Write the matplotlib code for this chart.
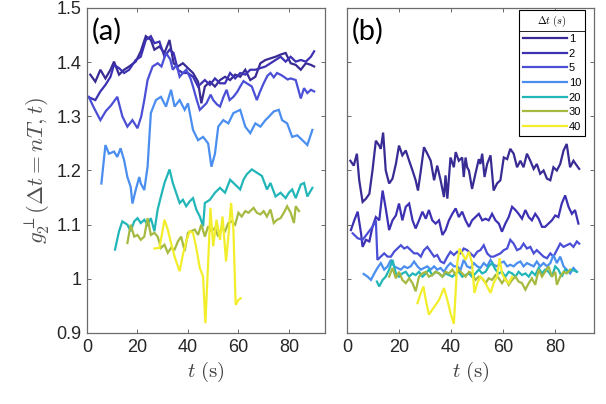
import numpy as np
import matplotlib
matplotlib.use('Agg')
import matplotlib.pyplot as plt
from matplotlib.lines import Line2D
from matplotlib.ticker import FuncFormatter

plt.rcParams['font.family'] = ['Liberation Sans', 'DejaVu Sans']
plt.rcParams['mathtext.fontset'] = 'cm'

''' Correlation g2 (perpendicular) vs time, for several lag times dt = nT.
    Panel (a) and panel (b) are two different samples. Values read by eye. '''

DT_LABELS = ['1', '2', '5', '10', '20', '30', '40']
COLORS = ['#382c94', '#3d31b3', '#4a4fd6', '#4a8ef0', '#22b6b8', '#a6b940', '#f3ee2c']

# ---- panel (a) ----
t_a1 = [1.3, 3.3, 5.3, 7.3, 9.3, 10.7, 12.7, 14.7, 16.7, 19.3, 21.3, 23.3, 25.3, 26.7, 28.7,
        30.7, 32.7, 34.3, 36, 38, 40, 42, 44, 45.3, 46.7, 48.7, 50.7, 52.7, 54.7, 56.7,
        58.7, 60.7, 62.7, 64.7, 66.7, 68.7, 70.7, 72.7, 74.7, 76.7, 78.7, 80.7, 82.7, 84.7, 86.7,
        88.7, 90]
g_a1 = [1.377, 1.364, 1.386, 1.370, 1.386, 1.401, 1.377, 1.386, 1.392, 1.401, 1.420, 1.448, 1.441, 1.423, 1.429,
        1.417, 1.441, 1.398, 1.392, 1.398, 1.389, 1.380, 1.364, 1.324, 1.355, 1.364, 1.355, 1.367, 1.373, 1.367,
        1.377, 1.373, 1.386, 1.367, 1.373, 1.398, 1.404, 1.407, 1.410, 1.414, 1.417, 1.398, 1.395, 1.386, 1.398,
        1.395, 1.392]

t_a2 = [0.3, 3.3, 5.3, 7.3, 9.3, 10.7, 12.7, 14.7, 16.7, 19.3, 21.3, 23.3, 25.3, 26.7, 28.7,
        30.7, 32.7, 34.3, 36, 38, 40, 42, 44, 45.3, 46.7, 48.7, 50.7, 52.7, 54.7, 56.7,
        58.7, 60.7, 62.7, 64.7, 66.7, 68.7, 70.7, 72.7, 74.7, 76.7, 78.7, 80.7, 82.7, 84.7, 86.7,
        88.7, 90]
g_a2 = [1.336, 1.330, 1.346, 1.358, 1.373, 1.395, 1.389, 1.380, 1.386, 1.404, 1.410, 1.441, 1.448, 1.435, 1.438,
        1.410, 1.423, 1.417, 1.386, 1.380, 1.380, 1.373, 1.355, 1.361, 1.367, 1.358, 1.370, 1.361, 1.361, 1.380,
        1.370, 1.380, 1.377, 1.386, 1.386, 1.389, 1.392, 1.398, 1.404, 1.410, 1.401, 1.410, 1.401, 1.404, 1.401,
        1.410, 1.420]

t_a5 = [0.7, 2.5, 5.3, 7.5, 9.5, 12, 14, 16, 18, 20, 21.5, 22.7, 24, 26, 28, 29.5, 31.3, 33, 34, 35.5,
        36.7, 38, 39.3, 41, 42, 43.5, 44.7, 46, 47.3, 49, 50, 51.5, 52.7, 54, 55.3, 56.5, 58, 59.5, 60.7, 62,
        63.3, 65.3, 67.3, 68.5, 70, 71.5, 72.7, 74, 75.3, 77, 78, 79.5, 80.7, 82.7, 84.7, 86, 87.3, 88.7, 90]
g_a5 = [1.336, 1.318, 1.293, 1.310, 1.320, 1.336, 1.300, 1.281, 1.293, 1.278, 1.300, 1.330, 1.367, 1.392, 1.398,
        1.392, 1.417, 1.405, 1.386, 1.395, 1.373, 1.380, 1.386, 1.370, 1.355, 1.330, 1.312, 1.318, 1.324, 1.340,
        1.330, 1.322, 1.318, 1.335, 1.349, 1.330, 1.336, 1.345, 1.355, 1.365, 1.361, 1.355, 1.330, 1.345, 1.361,
        1.375, 1.380, 1.372, 1.380, 1.376, 1.373, 1.368, 1.370, 1.367, 1.333, 1.352, 1.343, 1.349, 1.346]

t_a10 = [5.7, 7.3, 8.7, 10.7, 12, 13.3, 14.7, 16, 17.3, 18, 19.3, 20.7, 21.3, 22.7, 24, 25.3, 27.3, 29.3, 31.3, 33.3,
         34.7, 36.7, 38.7, 40, 42, 44, 46, 48, 49.3, 50.7, 52, 54, 56, 58, 60.7, 62.7, 64.7, 66.7, 68.7, 70.7,
         72, 74, 76, 77.3, 79.3, 81.3, 83.3, 86, 87.3, 89.3]
g_a10 = [1.176, 1.247, 1.231, 1.235, 1.225, 1.241, 1.219, 1.188, 1.170, 1.139, 1.164, 1.188, 1.176, 1.164, 1.207,
         1.306, 1.330, 1.336, 1.318, 1.349, 1.318, 1.330, 1.312, 1.324, 1.275, 1.256, 1.262, 1.250, 1.207, 1.231,
         1.281, 1.293, 1.287, 1.306, 1.312, 1.281, 1.269, 1.287, 1.281, 1.293, 1.299, 1.309, 1.312, 1.293, 1.287,
         1.262, 1.265, 1.253, 1.247, 1.275]

t_a20 = [11.1, 12.7, 14, 16, 17.3, 18.7, 20, 21.3, 22.7, 24, 25.3, 26.7, 28, 29.3, 30.7, 32.7, 34, 35.3, 36.7, 38,
         39.3, 40.7, 42, 43.3, 44.7, 46, 46.7, 48.7, 50.7, 52.7, 54.7, 56.7, 58.7, 60.7, 62, 63.3, 65.3, 67.3, 69.3,
         71.3, 72.7, 74.7, 76.7, 78.7, 80, 81.3, 82.7, 84.7, 86, 87.3, 89.3]
g_a20 = [1.054, 1.088, 1.106, 1.100, 1.088, 1.106, 1.112, 1.103, 1.109, 1.100, 1.112, 1.088, 1.128, 1.152, 1.177,
         1.202, 1.177, 1.159, 1.140, 1.146, 1.134, 1.143, 1.149, 1.128, 1.115, 1.097, 1.140, 1.146, 1.159, 1.168,
         1.159, 1.183, 1.174, 1.165, 1.183, 1.193, 1.202, 1.196, 1.190, 1.165, 1.177, 1.152, 1.159, 1.149, 1.159,
         1.165, 1.149, 1.174, 1.177, 1.152, 1.168]

t_a30 = [16, 17.3, 18.7, 20, 21.3, 22.7, 24, 25.3, 26.7, 28, 29.3, 30.7, 32, 33.3, 34.7, 36, 37.3, 38.7, 40, 41.3,
         42.7, 44, 45.3, 46.7, 48, 49.3, 50.7, 52, 53.3, 54.7, 56, 57.3, 58.7, 60, 61.3, 62.7, 64, 66, 67.3, 68.7,
         70, 71.3, 72.7, 74, 75.3, 76.7, 78, 79.3, 80.7, 82, 82.7, 84]
g_a30 = [1.066, 1.100, 1.078, 1.081, 1.072, 1.078, 1.112, 1.081, 1.085, 1.078, 1.057, 1.063, 1.048, 1.057, 1.054,
         1.069, 1.078, 1.051, 1.085, 1.088, 1.091, 1.081, 1.100, 1.078, 1.097, 1.088, 1.094, 1.078, 1.094, 1.088,
         1.103, 1.106, 1.100, 1.122, 1.115, 1.125, 1.122, 1.131, 1.122, 1.119, 1.125, 1.115, 1.128, 1.103, 1.109,
         1.112, 1.122, 1.134, 1.122, 1.103, 1.134, 1.125]

t_a40 = [26.7, 28.7, 30.7, 32, 33.3, 34.7, 36.7, 38, 39.3, 40.7, 42, 43.3, 44.7, 46, 46.9, 48, 48.9, 50, 51.3, 52.7,
         53.7, 55.1, 56, 57.1, 58, 58.9, 60, 60.9]
g_a40 = [1.056, 1.057, 1.109, 1.091, 1.066, 1.041, 1.014, 1.045, 1.069, 1.088, 1.085, 1.057, 1.020, 1.004, 0.918,
         1.029, 1.131, 1.060, 1.109, 1.072, 1.115, 1.032, 1.078, 1.140, 1.091, 0.952, 0.961, 0.964]

# ---- panel (b) ----
t_b1 = [1.3, 2.6, 3.8, 4.7, 6.0, 7.3, 8.6, 9.8, 11.1, 12.4, 13.0, 13.9, 14.9, 16.2, 17.5, 18.8, 20.0, 21.3, 22.6, 23.9,
        25.2, 26.4, 27.3, 28.4, 29.6, 30.9, 32.2, 33.5, 34.7, 36.0, 37.3, 37.9, 38.6, 39.8, 41.1, 41.8, 43.0, 44.3,
        44.9, 45.6, 46.2, 46.9, 48.1, 49.4, 50.7, 51.3, 52.0, 52.9, 53.9, 55.2, 56.4, 57.7, 59.0, 60.3, 61.6, 62.8,
        64.1, 65.4, 66.7, 67.9, 69.2, 70.5, 71.8, 73.0, 74.3, 75.6, 76.9, 78.2, 79.4, 80.7, 82.0, 83.3, 84.5, 85.8,
        87.1, 88.4, 89.3]
g_b1 = [1.218, 1.209, 1.231, 1.182, 1.142, 1.148, 1.157, 1.200, 1.255, 1.246, 1.240, 1.270, 1.200, 1.176, 1.185,
        1.212, 1.246, 1.228, 1.237, 1.218, 1.200, 1.182, 1.163, 1.200, 1.243, 1.231, 1.218, 1.182, 1.209, 1.182,
        1.151, 1.191, 1.148, 1.224, 1.206, 1.234, 1.218, 1.224, 1.188, 1.224, 1.206, 1.200, 1.166, 1.194, 1.221,
        1.212, 1.231, 1.188, 1.212, 1.228, 1.163, 1.176, 1.182, 1.224, 1.221, 1.240, 1.231, 1.206, 1.218, 1.206,
        1.231, 1.218, 1.203, 1.212, 1.194, 1.200, 1.185, 1.182, 1.206, 1.200, 1.212, 1.237, 1.249, 1.206, 1.218,
        1.209, 1.203]

t_b2 = [1.5, 2.8, 4.1, 5.4, 6.0, 7.3, 8.6, 9.8, 11.1, 12.4, 13.7, 14.9, 16.2, 17.5, 18.8, 20.0, 21.3, 22.6, 23.9, 25.2,
        26.4, 27.7, 29.0, 30.3, 31.5, 32.8, 34.1, 35.4, 36.7, 37.9, 39.2, 40.5, 41.8, 43.0, 44.3, 45.6, 46.9, 48.1,
        49.4, 50.7, 52.0, 53.3, 54.5, 55.8, 57.1, 58.4, 59.6, 60.9, 62.2, 63.5, 64.8, 66.0, 67.3, 68.6, 69.9, 71.1,
        72.4, 73.7, 75.0, 76.2, 77.5, 78.8, 80.1, 81.3, 82.6, 83.9, 85.2, 86.5, 87.7, 89.0]
g_b2 = [1.090, 1.108, 1.124, 1.084, 1.059, 1.072, 1.069, 1.096, 1.114, 1.108, 1.163, 1.130, 1.090, 1.108, 1.117,
        1.139, 1.108, 1.133, 1.139, 1.108, 1.093, 1.108, 1.124, 1.111, 1.127, 1.108, 1.102, 1.108, 1.081, 1.090,
        1.108, 1.120, 1.130, 1.114, 1.124, 1.108, 1.096, 1.108, 1.114, 1.120, 1.108, 1.111, 1.108, 1.120, 1.108,
        1.102, 1.087, 1.102, 1.114, 1.133, 1.127, 1.120, 1.111, 1.127, 1.114, 1.108, 1.120, 1.111, 1.096, 1.096,
        1.102, 1.108, 1.117, 1.114, 1.139, 1.154, 1.133, 1.120, 1.127, 1.102]

t_b5 = [2.2, 4.1, 6.0, 7.9, 9.8, 11.1, 11.7, 13.0, 14.3, 15.6, 16.9, 18.1, 19.4, 20.7, 22.0, 23.2, 24.5, 25.8, 27.1,
        28.4, 29.6, 30.9, 32.2, 33.5, 34.7, 36.0, 37.3, 38.6, 39.8, 41.1, 42.4, 43.7, 44.9, 46.2, 47.5, 48.8, 50.1,
        51.3, 52.6, 53.9, 55.2, 56.4, 57.7, 59.0, 60.3, 61.6, 62.8, 64.1, 65.4, 66.7, 67.9, 69.2, 70.5, 71.8, 73.0,
        74.3, 75.6, 76.9, 78.2, 79.4, 80.7, 82.0, 83.3, 84.5, 85.8, 87.1, 88.4, 89.3]
g_b5 = [1.084, 1.075, 1.072, 1.084, 1.096, 1.108, 1.035, 1.041, 1.047, 1.041, 1.041, 1.050, 1.056, 1.062, 1.056,
        1.059, 1.053, 1.047, 1.047, 1.041, 1.053, 1.059, 1.050, 1.041, 1.044, 1.032, 1.029, 1.041, 1.050, 1.044,
        1.050, 1.047, 1.056, 1.053, 1.047, 1.041, 1.050, 1.053, 1.062, 1.047, 1.041, 1.041, 1.044, 1.047, 1.053,
        1.056, 1.072, 1.065, 1.053, 1.056, 1.065, 1.056, 1.059, 1.047, 1.053, 1.047, 1.041, 1.038, 1.047, 1.041,
        1.053, 1.065, 1.059, 1.062, 1.065, 1.059, 1.069, 1.065]

t_b10 = [6.4, 7.9, 9.2, 10.5, 11.7, 13.0, 14.3, 15.6, 16.9, 18.1, 19.4, 20.7, 22.0, 23.2, 24.5, 25.8, 27.1, 28.4, 29.6,
         30.9, 32.2, 33.5, 34.7, 36.0, 37.3, 38.6, 39.8, 41.1, 42.4, 43.7, 44.9, 46.2, 47.5, 48.8, 50.1, 51.3, 52.6,
         53.9, 55.2, 56.4, 57.7, 59.0, 60.3, 61.6, 62.8, 64.1, 65.4, 66.7, 67.9, 69.2, 70.5, 71.8, 73.0, 74.3, 75.6,
         76.9, 78.2, 79.4, 80.7, 82.0, 83.3, 84.5, 85.8, 87.1, 88.4]
g_b10 = [1.009, 1.004, 0.998, 1.010, 1.020, 1.029, 1.017, 1.023, 1.035, 1.023, 1.020, 1.017, 1.023, 1.020, 1.023,
         1.032, 1.023, 1.017, 1.020, 1.023, 1.017, 1.023, 1.017, 1.020, 1.013, 1.023, 1.029, 1.023, 1.023, 1.017,
         1.035, 1.023, 1.020, 1.029, 1.023, 1.020, 1.029, 1.023, 1.035, 1.026, 1.023, 1.029, 1.032, 1.023, 1.026,
         1.023, 1.029, 1.032, 1.023, 1.029, 1.026, 1.023, 1.032, 1.023, 1.029, 1.023, 1.029, 1.044, 1.029, 1.041,
         1.023, 1.017, 1.010, 1.020, 1.013]

t_b20 = [11.5, 12.4, 13.7, 14.9, 16.2, 17.5, 18.8, 20.0, 21.3, 22.6, 23.9, 25.2, 26.4, 27.7, 29.0, 30.3, 31.5, 32.8,
         34.1, 35.4, 36.7, 37.9, 39.2, 40.5, 41.8, 43.0, 44.3, 45.6, 46.9, 48.1, 49.4, 50.7, 52.0, 53.3, 54.5, 55.8,
         57.1, 58.4, 59.6, 60.9, 62.2, 63.5, 64.8, 66.0, 67.3, 68.6, 69.9, 71.1, 72.4, 73.7, 75.0, 76.2, 77.5, 78.8,
         80.1, 81.3, 82.6, 83.9, 85.2, 86.5, 88.4]
g_b20 = [0.995, 0.986, 0.998, 1.004, 1.017, 1.035, 1.010, 1.004, 1.010, 1.013, 1.004, 1.010, 1.007, 1.013, 1.004,
         1.010, 1.017, 1.007, 1.013, 1.010, 1.004, 1.010, 1.007, 1.004, 1.010, 1.013, 1.004, 1.007, 1.010, 1.004,
         1.010, 1.017, 1.010, 1.013, 1.023, 1.029, 1.017, 1.010, 1.013, 1.004, 1.013, 1.010, 1.004, 1.013, 1.007,
         1.010, 1.004, 1.013, 1.007, 1.020, 1.010, 1.017, 1.013, 1.004, 1.023, 1.017, 1.004, 1.017, 1.013, 1.017,
         1.013]

t_b30 = [16.2, 17.5, 18.8, 20.0, 21.3, 22.6, 23.9, 25.2, 26.4, 27.7, 29.0, 30.3, 31.5, 32.8, 34.1, 35.4, 36.7, 37.9,
         39.2, 40.5, 41.8, 43.0, 44.3, 45.6, 46.9, 48.1, 49.4, 50.7, 52.0, 53.3, 54.5, 55.8, 57.1, 58.4, 59.6, 60.9,
         62.2, 63.5, 64.8, 66.0, 67.3, 68.6, 69.9, 71.1, 72.4, 73.7, 75.0, 76.2, 77.5, 78.8, 80.1, 80.7, 82.0, 83.3,
         84.5, 85.8]
g_b30 = [1.004, 1.020, 1.001, 1.013, 0.998, 0.992, 1.001, 0.992, 0.977, 1.004, 1.010, 1.013, 1.004, 1.007, 1.013,
         1.010, 1.004, 1.013, 1.010, 1.017, 1.007, 1.017, 1.010, 1.004, 1.013, 1.010, 0.998, 1.004, 1.001, 0.992,
         1.001, 0.998, 1.007, 1.001, 0.992, 1.001, 0.989, 0.998, 1.004, 0.995, 0.992, 0.980, 0.992, 1.001, 0.989,
         1.017, 1.004, 1.013, 1.023, 1.004, 1.013, 0.989, 1.004, 1.013, 1.010, 1.017]

t_b40 = [27.1, 28.4, 29.4, 30.3, 31.5, 32.8, 34.1, 35.4, 37.3, 38.6, 39.8, 41.1, 42.4, 43.3, 44.3, 45.6, 46.9, 48.1,
         49.0, 50.1, 51.3, 52.6, 53.9, 55.2, 56.4, 57.7, 58.7, 59.6, 60.9, 62.2, 63.5]
g_b40 = [0.955, 0.974, 0.986, 0.961, 0.934, 0.943, 0.952, 0.961, 0.983, 0.961, 0.937, 0.917, 1.029, 1.056, 1.047,
         1.035, 1.050, 1.029, 0.974, 0.992, 1.004, 0.998, 0.986, 0.974, 0.992, 1.004, 1.038, 1.010, 0.998, 0.992,
         1.004]

panel_a = [(t_a1, g_a1), (t_a2, g_a2), (t_a5, g_a5), (t_a10, g_a10), (t_a20, g_a20), (t_a30, g_a30), (t_a40, g_a40)]
panel_b = [(t_b1, g_b1), (t_b2, g_b2), (t_b5, g_b5), (t_b10, g_b10), (t_b20, g_b20), (t_b30, g_b30), (t_b40, g_b40)]

X_TICKS = [0, 20, 40, 60, 80]
Y_TICKS = [0.9, 1.0, 1.1, 1.2, 1.3, 1.4, 1.5]

AXIS_GREY = '#6b6b6b'
TEXT_DARK = '#262626'

fig = plt.figure(figsize=(6.06, 4.04), dpi=100)
W, H = 606., 404.
ax_a = fig.add_axes([87/W, 71/H, 238/W, 325/H])
ax_b = fig.add_axes([347/W, 71/H, 247/W, 325/H])

for ax, series, xmax, tag in [(ax_a, panel_a, 94.3, '(a)'), (ax_b, panel_b, 95, '(b)')]:
    for (t, g), c in zip(series, COLORS):
        ax.plot(t, g, color=c, lw=1.6, solid_joinstyle='miter')
    ax.set_xlim(0, xmax)
    ax.set_ylim(0.9, 1.5)
    ax.set_xticks(X_TICKS)
    ax.set_yticks(Y_TICKS)
    ax.yaxis.set_major_formatter(FuncFormatter(lambda v, p: '%g' % round(v, 2)))
    ax.tick_params(direction='in', top=True, right=True, length=3, width=0.7,
                   color=AXIS_GREY, labelcolor=TEXT_DARK, labelsize=13, pad=4)
    for sp in ax.spines.values():
        sp.set_color(AXIS_GREY)
        sp.set_linewidth(0.9)
    ax.set_xlabel(r'$t\ (\mathrm{s})$', fontsize=15, color='#404040', labelpad=3)
    ax.text(0.02, 0.97, tag, transform=ax.transAxes, ha='left', va='top',
            fontsize=21, family=['Lato', 'DejaVu Sans'], color='black')

ax_b.tick_params(labelleft=False)
ax_a.set_ylabel(r'$g_2^{\perp}(\Delta t = nT, t)$', fontsize=16.5, color='#505050', labelpad=3)

# legend for dt, with a line under the title like the original
handles = [Line2D([], [], color=c, lw=1.6) for c in COLORS]
leg = ax_b.legend(handles, DT_LABELS, title=r'$\Delta t\ (s)$', loc='upper right',
                  bbox_to_anchor=(585/W, 1 - 10/H), bbox_transform=fig.transFigure,
                  fontsize=8, title_fontsize=7.5, frameon=True, fancybox=False,
                  edgecolor='black', framealpha=1, borderaxespad=0, handlelength=3.9,
                  handletextpad=0.2, labelspacing=0.42, borderpad=0.35)
leg.get_frame().set_linewidth(0.8)

fig.canvas.draw()
fb = leg.get_frame().get_window_extent()
tb = leg.get_title().get_window_extent()
ysep = (tb.y0 - 2) / H
fig.add_artist(Line2D([fb.x0 / W, fb.x1 / W], [ysep, ysep], transform=fig.transFigure,
                      color='black', lw=0.6))

fig.savefig('out.png', dpi=100)
